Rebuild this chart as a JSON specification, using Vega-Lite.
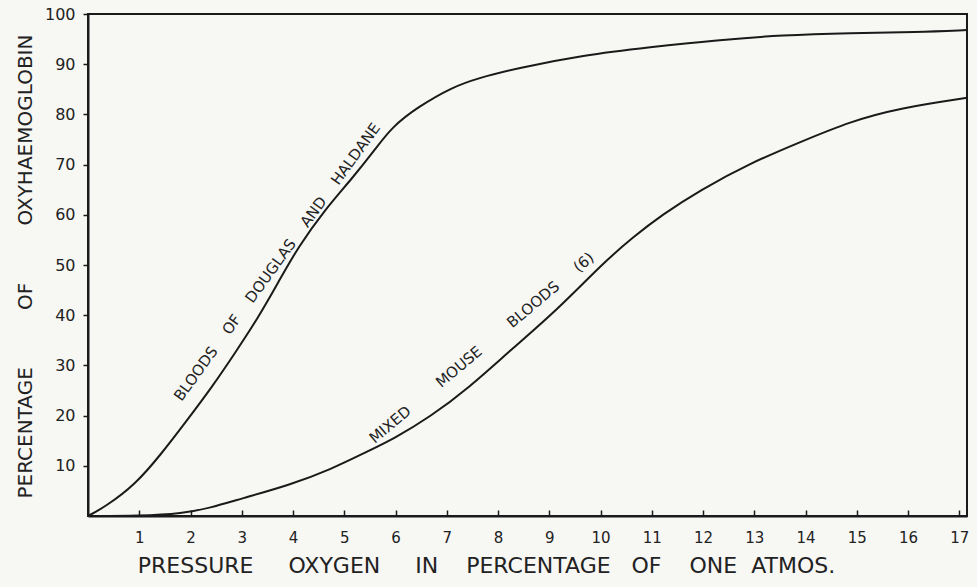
{
  "$schema": "https://vega.github.io/schema/vega-lite/v6.json",
  "width": 879,
  "height": 502,
  "autosize": {"type": "none"},
  "padding": {"left": 88, "top": 14, "right": 10, "bottom": 71},
  "background": "#f7f7f4",
  "config": {
    "view": {"stroke": "#1a1a1a", "strokeWidth": 2},
    "font": "DejaVu Sans",
    "axis": {
      "grid": false,
      "domainColor": "#1a1a1a",
      "domainWidth": 2,
      "tickColor": "#1a1a1a",
      "tickWidth": 1.5,
      "labelColor": "#222222",
      "labelFont": "DejaVu Sans",
      "labelFontSize": 15,
      "titleFont": "DejaVu Sans",
      "titleFontWeight": "normal",
      "titleColor": "#222222",
      "titleFontSize": 20
    }
  },
  "datasets": {
    "curves": [
      {"series": "Douglas and Haldane", "pressure": 0, "oxy": 0},
      {"series": "Douglas and Haldane", "pressure": 0.33, "oxy": 1.8},
      {"series": "Douglas and Haldane", "pressure": 0.92, "oxy": 6.2},
      {"series": "Douglas and Haldane", "pressure": 1.44, "oxy": 12.5},
      {"series": "Douglas and Haldane", "pressure": 1.89, "oxy": 18.5},
      {"series": "Douglas and Haldane", "pressure": 2.42, "oxy": 25.7},
      {"series": "Douglas and Haldane", "pressure": 2.87, "oxy": 32.5},
      {"series": "Douglas and Haldane", "pressure": 3.32, "oxy": 39.5},
      {"series": "Douglas and Haldane", "pressure": 3.71, "oxy": 46.5},
      {"series": "Douglas and Haldane", "pressure": 4.1, "oxy": 53.6},
      {"series": "Douglas and Haldane", "pressure": 4.62, "oxy": 61},
      {"series": "Douglas and Haldane", "pressure": 5.15, "oxy": 67.2},
      {"series": "Douglas and Haldane", "pressure": 5.6, "oxy": 73},
      {"series": "Douglas and Haldane", "pressure": 5.93, "oxy": 77.5},
      {"series": "Douglas and Haldane", "pressure": 6.44, "oxy": 81.5},
      {"series": "Douglas and Haldane", "pressure": 7.1, "oxy": 85.4},
      {"series": "Douglas and Haldane", "pressure": 7.6, "oxy": 87.2},
      {"series": "Douglas and Haldane", "pressure": 8.37, "oxy": 89.2},
      {"series": "Douglas and Haldane", "pressure": 9.66, "oxy": 91.8},
      {"series": "Douglas and Haldane", "pressure": 10.97, "oxy": 93.4},
      {"series": "Douglas and Haldane", "pressure": 12.27, "oxy": 94.8},
      {"series": "Douglas and Haldane", "pressure": 13.56, "oxy": 95.8},
      {"series": "Douglas and Haldane", "pressure": 14.87, "oxy": 96.2},
      {"series": "Douglas and Haldane", "pressure": 16.18, "oxy": 96.4},
      {"series": "Douglas and Haldane", "pressure": 17.15, "oxy": 96.8},
      {"series": "Mixed mouse bloods", "pressure": 0, "oxy": 0},
      {"series": "Mixed mouse bloods", "pressure": 1, "oxy": 0},
      {"series": "Mixed mouse bloods", "pressure": 1.85, "oxy": 0.5},
      {"series": "Mixed mouse bloods", "pressure": 2.38, "oxy": 1.6},
      {"series": "Mixed mouse bloods", "pressure": 2.97, "oxy": 3.4},
      {"series": "Mixed mouse bloods", "pressure": 3.94, "oxy": 6.2},
      {"series": "Mixed mouse bloods", "pressure": 4.72, "oxy": 9.2},
      {"series": "Mixed mouse bloods", "pressure": 5.5, "oxy": 13.1},
      {"series": "Mixed mouse bloods", "pressure": 5.95, "oxy": 15.3},
      {"series": "Mixed mouse bloods", "pressure": 6.67, "oxy": 19.7},
      {"series": "Mixed mouse bloods", "pressure": 7.45, "oxy": 25.7},
      {"series": "Mixed mouse bloods", "pressure": 8.24, "oxy": 33},
      {"series": "Mixed mouse bloods", "pressure": 9.15, "oxy": 41},
      {"series": "Mixed mouse bloods", "pressure": 10.05, "oxy": 50.4},
      {"series": "Mixed mouse bloods", "pressure": 10.64, "oxy": 55.6},
      {"series": "Mixed mouse bloods", "pressure": 11.2, "oxy": 60},
      {"series": "Mixed mouse bloods", "pressure": 11.94, "oxy": 64.9},
      {"series": "Mixed mouse bloods", "pressure": 12.92, "oxy": 70.3},
      {"series": "Mixed mouse bloods", "pressure": 13.9, "oxy": 74.5},
      {"series": "Mixed mouse bloods", "pressure": 14.87, "oxy": 78.6},
      {"series": "Mixed mouse bloods", "pressure": 15.85, "oxy": 81.3},
      {"series": "Mixed mouse bloods", "pressure": 17.15, "oxy": 83.3}
    ],
    "labels": [
      {"series": "Douglas and Haldane", "text": "BLOODS\u00a0\u00a0\u00a0\u00a0OF\u00a0\u00a0\u00a0\u00a0DOUGLAS\u00a0\u00a0\u00a0\u00a0AND\u00a0\u00a0\u00a0\u00a0HALDANE", "pressure": 3.69, "oxy": 50.6},
      {"series": "Mixed mouse bloods", "text": "MIXED\u00a0\u00a0\u00a0\u00a0\u00a0\u00a0\u00a0\u00a0MOUSE\u00a0\u00a0\u00a0\u00a0\u00a0\u00a0\u00a0\u00a0BLOODS\u00a0\u00a0\u00a0\u00a0\u00a0(6)", "pressure": 7.68, "oxy": 33.5}
    ]
  },
  "layer": [
    {
      "data": {"name": "curves"},
      "mark": {"type": "line", "interpolate": "basis", "color": "#1a1a1a", "strokeWidth": 2},
      "encoding": {
        "x": {
          "field": "pressure", "type": "quantitative",
          "scale": {"domain": [0, 17.15], "nice": false, "zero": false},
          "axis": {
            "values": [1, 2, 3, 4, 5, 6, 7, 8, 9, 10, 11, 12, 13, 14, 15, 16, 17],
            "tickSize": -6,
            "labelPadding": 20,
            "title": "PRESSURE\u00a0\u00a0\u00a0\u00a0\u00a0OXYGEN\u00a0\u00a0\u00a0\u00a0\u00a0IN\u00a0\u00a0\u00a0\u00a0PERCENTAGE\u00a0\u00a0\u00a0OF\u00a0\u00a0\u00a0\u00a0ONE\u00a0\u00a0ATMOS.",
            "titleFontSize": 22,
            "titleX": 398,
            "titleY": 49,
            "titleAnchor": "middle",
            "titleAlign": "center",
            "titleBaseline": "middle"
          }
        },
        "y": {
          "field": "oxy", "type": "quantitative",
          "scale": {"domain": [0, 100], "nice": false},
          "axis": {
            "values": [10, 20, 30, 40, 50, 60, 70, 80, 90, 100],
            "tickSize": 5,
            "labelPadding": 8,
            "labelFontSize": 16,
            "title": "PERCENTAGE\u00a0\u00a0\u00a0\u00a0\u00a0\u00a0\u00a0\u00a0\u00a0OF\u00a0\u00a0\u00a0\u00a0\u00a0\u00a0\u00a0\u00a0\u00a0OXYHAEMOGLOBIN",
            "titleX": -63,
            "titleY": 252,
            "titleAngle": -90,
            "titleAlign": "center",
            "titleBaseline": "middle"
          }
        },
        "detail": {"field": "series"}
      }
    },
    {
      "data": {"name": "labels"},
      "transform": [{"filter": "datum.series === 'Douglas and Haldane'"}],
      "mark": {"type": "text", "angle": -54, "fontSize": 15, "font": "DejaVu Sans", "color": "#222222", "align": "center", "baseline": "middle"},
      "encoding": {
        "x": {"field": "pressure", "type": "quantitative"},
        "y": {"field": "oxy", "type": "quantitative"},
        "text": {"field": "text"}
      }
    },
    {
      "data": {"name": "labels"},
      "transform": [{"filter": "datum.series === 'Mixed mouse bloods'"}],
      "mark": {"type": "text", "angle": -40, "fontSize": 15, "font": "DejaVu Sans", "color": "#222222", "align": "center", "baseline": "middle"},
      "encoding": {
        "x": {"field": "pressure", "type": "quantitative"},
        "y": {"field": "oxy", "type": "quantitative"},
        "text": {"field": "text"}
      }
    }
  ]
}
